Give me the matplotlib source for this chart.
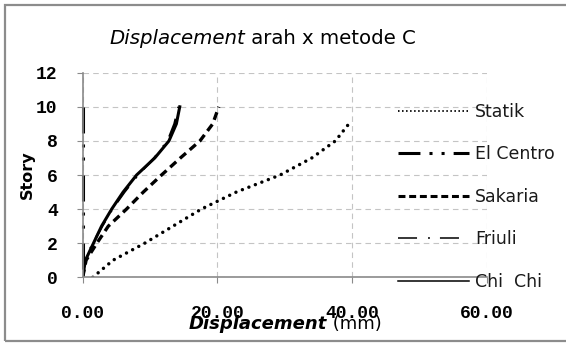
import matplotlib
matplotlib.use("Agg")
import matplotlib.pyplot as plt
from matplotlib.lines import Line2D
from matplotlib.patches import Rectangle

plt.rcParams['lines.scale_dashes'] = False

# Story levels and lateral displacement (mm) per load case
stories = [0, 1, 2, 3, 4, 5, 6, 7, 8, 9, 10]
statik_stories = [0, 1, 2, 3, 4, 5, 6, 7, 8, 9]
statik = [1.5, 4.5, 9.2, 13.4, 17.6, 22.8, 29.3, 34.0, 37.5, 39.5]
el_centro = [0.0, 0.0, 0.0, 0.0, 0.0, 0.0, 0.0, 0.0, 0.0, 0.0, 0.0]
sakaria = [0.0, 0.5, 2.1, 3.8, 6.5, 9.0, 11.7, 14.5, 17.4, 19.3, 20.2]
friuli = [0.0, 0.3, 1.5, 2.9, 4.4, 6.2, 8.2, 10.6, 12.6, 13.6, 14.2]
chi_chi = [0.0, 0.4, 1.6, 2.8, 4.3, 6.0, 8.0, 10.7, 12.8, 13.9, 14.4]

series_names = ["Statik", "El Centro", "Sakaria", "Friuli", "Chi  Chi"]
x_ticks = [0, 20, 40, 60]
x_tick_labels = ["0.00", "20.00", "40.00", "60.00"]
y_ticks = [0, 2, 4, 6, 8, 10, 12]

W, H = 566, 343
fig = plt.figure(figsize=(W / 100, H / 100), dpi=100)
fig.patch.set_facecolor("white")

# chart-area frame
fig.add_artist(Rectangle((5 / W, 1 - 341 / H), 570 / W, 336 / H,
                         transform=fig.transFigure, fill=False,
                         ec="#8c8c8c", lw=1.6))

ax = fig.add_axes([82.7 / W, 1 - 277.3 / H, (487 - 82.7) / W, (277.3 - 72.7) / H])
ax.set_xlim(0, 60)
ax.set_ylim(0, 12)

grey = "#8a8a8a"
ax.grid(True, color="#c4c4c4", lw=0.8, linestyle=(0, (4, 3)))
ax.set_axisbelow(True)
for s in ("top", "right"):
    ax.spines[s].set_visible(False)
for s in ("left", "bottom"):
    ax.spines[s].set_color(grey)
    ax.spines[s].set_linewidth(1.2)

tick_font = dict(family="Liberation Mono", weight="bold", size=13)
ax.set_xticks(x_ticks)
ax.set_xticklabels(x_tick_labels, fontdict=tick_font)
ax.set_yticks(y_ticks)
ax.set_yticklabels([str(v) for v in y_ticks], fontdict=tick_font)
ax.tick_params(axis="x", direction="out", length=4, color=grey, pad=16)
ax.tick_params(axis="y", direction="out", length=4, color=grey, pad=14)

# series
ax.plot(statik, statik_stories, color="black", lw=2.5,
        linestyle=(0, (0.01, 5.0)), dash_capstyle="round")
ax.plot(el_centro[::-1], stories[::-1], color="black", lw=2.2,
        linestyle=(0, (18.7, 7.9, 2.2, 7.2, 2.2, 10.8)), clip_on=False)
ax.plot(sakaria, stories, color="black", lw=2.4, linestyle=(0, (5.8, 3.6)))
ax.plot(friuli, stories, color="black", lw=1.6, linestyle=(0, (13.7, 7.9, 1.4, 7.2)))
ax.plot(chi_chi, stories, color="black", lw=2.2, linestyle="-")

handles = [
    Line2D([], [], color="black", lw=1.3, linestyle=(0, (1.1, 1.8))),
    Line2D([], [], color="black", lw=2.2, linestyle=(0, (15.8, 6.5, 2.2, 6.5, 2.2, 6.5))),
    Line2D([], [], color="black", lw=2.2, linestyle=(0, (5.0, 2.7))),
    Line2D([], [], color="black", lw=1.1, linestyle=(0, (13.7, 7.9, 1.4, 7.2))),
    Line2D([], [], color="black", lw=1.1, linestyle="-"),
]
leg = ax.legend(handles, series_names, loc="upper left",
                bbox_to_anchor=(398 / W, 1 - 103 / H), bbox_transform=fig.transFigure,
                frameon=False, borderpad=0, borderaxespad=0,
                handlelength=4.1, handletextpad=0.35, labelspacing=1.41,
                prop=dict(family="DejaVu Sans", size=12.5))
for t in leg.get_texts():
    t.set_color("#1a1a1a")

# title and axis labels with italic leading word
renderer = fig.canvas.get_renderer()


def mixed_text(xc, yc, parts, rotation=0):
    texts = []
    for txt, kw in parts:
        texts.append(fig.text(0, 0, txt, transform=None, va="center", ha="left",
                              rotation=rotation, **kw))
    widths = [t.get_window_extent(renderer).width for t in texts]
    total = sum(widths)
    x = xc - total / 2
    for t, w in zip(texts, widths):
        t.set_position((x, yc))
        x += w


title_font = dict(family="DejaVu Sans", size=14.2, color="black")
mixed_text(263, H - 38, [("Displacement", dict(style="italic", **title_font)),
                         (" arah x metode C", title_font)])

mixed_text(285, H - 324, [("Displacement", dict(family="DejaVu Sans", size=13, color="black",
                                                style="italic", weight="bold")),
                          (" (mm)", dict(family="DejaVu Sans", size=13, color="black"))])

fig.text(27, H - 175, "Story", transform=None, rotation=90, ha="center", va="center",
         family="DejaVu Sans", size=11.5, weight="bold")

fig.savefig("out.png", dpi=100, facecolor="white")
